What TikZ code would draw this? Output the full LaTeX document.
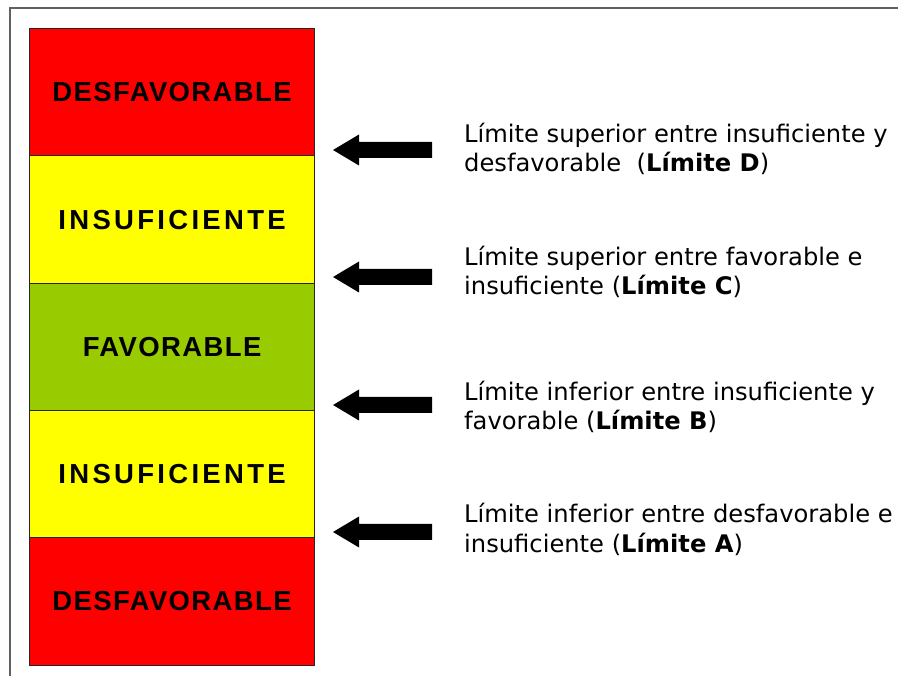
\documentclass[tikz,border=0pt]{standalone}
\usepackage{fontspec}
\setmainfont{DejaVu Sans}
\newfontfamily\labfont{Liberation Sans}[LetterSpace=5]
\newfontfamily\labwide{Liberation Sans}[LetterSpace=12]
\definecolor{cred}{HTML}{FF0000}
\definecolor{cyel}{HTML}{FFFF00}
\definecolor{cgrn}{HTML}{99CC00}
\definecolor{frame}{HTML}{606060}
\begin{document}
\begin{tikzpicture}[x=1pt,y=-1pt,
  band/.style={draw=black!85,line width=1.2pt,minimum width=285pt,minimum height=127.3pt,inner sep=0pt,anchor=north west},
  lab/.style={font=\fontsize{27.5}{30}\selectfont\bfseries\labfont},
  labw/.style={font=\fontsize{27.5}{30}\selectfont\bfseries\labwide},
  desc/.style={anchor=base west,inner sep=0pt,align=left,font=\fontsize{24.2}{29.5}\selectfont},
  barrow/.style={fill=black}]
\useasboundingbox (0,0) rectangle (898,676);
\draw[frame,line width=1.8pt] (10,676) -- (10,8) -- (898,8);
\node[band,fill=cred,lab]  (b1) at (29,28)    {DESFAVORABLE};
\node[band,fill=cyel,labw] (b2) at (29,155.3) {INSUFICIENTE};
\node[band,fill=cgrn,lab]  (b3) at (29,282.6) {FAVORABLE};
\node[band,fill=cyel,labw] (b4) at (29,409.9) {INSUFICIENTE};
\node[band,fill=cred,lab]  (b5) at (29,537.2) {DESFAVORABLE};
\foreach \yc/\nm in {150/a1,277/a2,405/a3,532/a4}{
  \fill[barrow] (333,\yc) -- (359,\yc-15.5) -- (359,\yc-8) -- (432,\yc-8) -- (432,\yc+8) -- (359,\yc+8) -- (359,\yc+15.5) -- cycle;
  \coordinate (\nm) at (333,\yc);
}
\node[desc] (t1) at (464,172) {Límite superior entre insuficiente y\\desfavorable\ \ (\textbf{Límite D})};
\node[desc] (t2) at (464,295) {Límite superior entre favorable e\\insuficiente (\textbf{Límite C})};
\node[desc] (t3) at (464,430) {Límite inferior entre insuficiente y\\favorable (\textbf{Límite B})};
\node[desc] (t4) at (464,552) {Límite inferior entre desfavorable e\\insuficiente (\textbf{Límite A})};
\end{tikzpicture}
\end{document}
